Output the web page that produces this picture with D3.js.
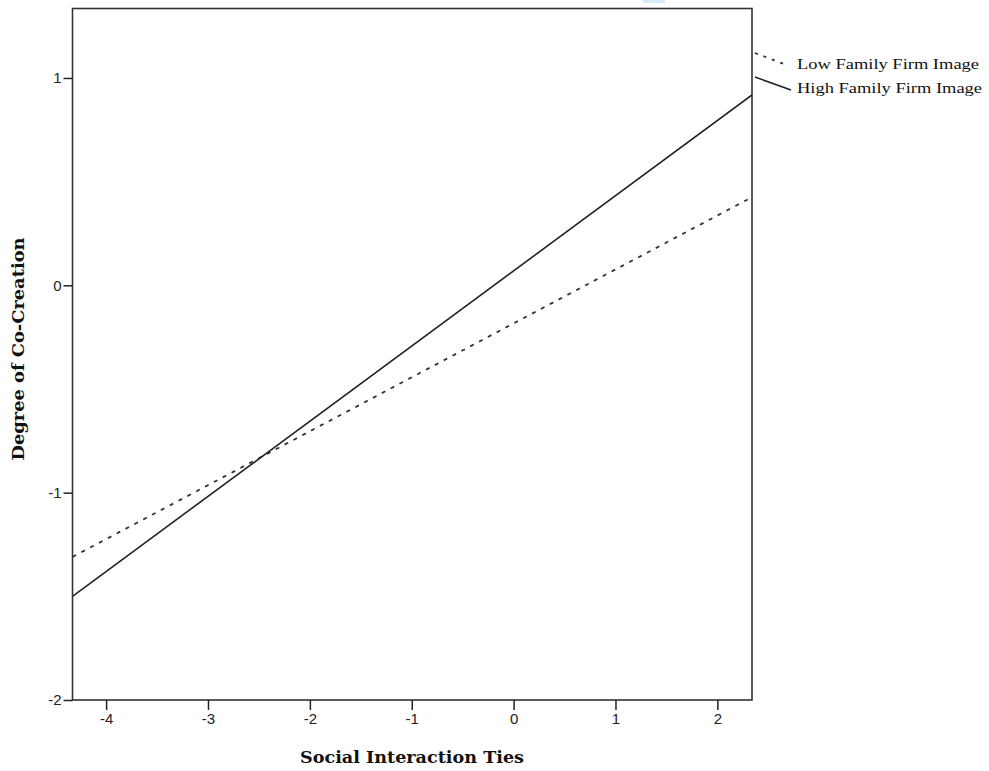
<!DOCTYPE html>
<html><head><meta charset="utf-8">
<script src="https://cdn.jsdelivr.net/npm/d3@7"></script>
<style>body{margin:0;background:#fff}svg{display:block}
.tick text{font-family:'Liberation Sans',Arial,sans-serif !important;font-size:15px !important;fill:#222}</style>
</head><body><svg id="c" width="989" height="771"></svg>
<script>
const xDomain = [-4.33, 2.34];
const yDomain = [-2, 1.335];
const xTicks = [-4, -3, -2, -1, 0, 1, 2];
const yTicks = [-2, -1, 0, 1];
const seriesNames = ["Low Family Firm Image", "High Family Firm Image"];
const lowLine = [[-4.33, -1.31], [2.34, 0.425]];
const highLine = [[-4.33, -1.50], [2.34, 0.918]];
const xTitle = "Social Interaction Ties";
const yTitle = "Degree of Co-Creation";

const svg = d3.select("#c");
const L = 72.5, R = 752, T = 8.5, B = 700;
const x = d3.scaleLinear().domain(xDomain).range([L, R]);
const y = d3.scaleLinear().domain(yDomain).range([B, T]);

// faint artifact at top
svg.append("rect").attr("x",643).attr("y",0).attr("width",22).attr("height",3).attr("fill","#d6ecfb");

// frame
svg.append("rect").attr("x",L).attr("y",T).attr("width",R-L).attr("height",B-T)
  .attr("fill","none").attr("stroke","#333").attr("stroke-width",1.6);

const fmt = d => String(d);
const xa = svg.append("g").attr("transform",`translate(0,${B})`)
  .call(d3.axisBottom(x).tickValues(xTicks).tickSize(10).tickPadding(3).tickFormat(fmt));
const ya = svg.append("g").attr("transform",`translate(${L},0)`)
  .call(d3.axisLeft(y).tickValues(yTicks).tickSize(9).tickPadding(2).tickFormat(fmt));
[xa, ya].forEach(a => {
  a.select(".domain").remove();
  a.selectAll(".tick line").attr("stroke","#222").attr("stroke-width",1.5);
});

const line = d3.line().x(d => x(d[0])).y(d => y(d[1]));
svg.append("clipPath").attr("id","cl").append("rect").attr("x",L).attr("y",T).attr("width",R-L).attr("height",B-T);
svg.append("path").attr("d", line(lowLine)).attr("clip-path","url(#cl)")
  .attr("fill","none").attr("stroke","#333").attr("stroke-width",1.8).attr("stroke-dasharray","4,6");
svg.append("path").attr("d", line(highLine)).attr("clip-path","url(#cl)")
  .attr("fill","none").attr("stroke","#222").attr("stroke-width",1.6);

// legend
const lg = svg.append("g");
lg.append("line").attr("x1",755).attr("y1",53).attr("x2",784).attr("y2",64)
  .attr("stroke","#333").attr("stroke-width",1.8).attr("stroke-dasharray","3,6");
lg.append("line").attr("x1",755).attr("y1",77).attr("x2",791).attr("y2",90)
  .attr("stroke","#222").attr("stroke-width",1.6);
lg.selectAll("text").data(seriesNames).join("text")
  .attr("x",797).attr("y",(d,i)=>69 + i*24)
  .style("font-family","'Liberation Serif', 'Times New Roman', serif").style("font-size","15px").attr("fill","#111")
  .attr("textLength",(d,i)=> i===0 ? 182 : 185).attr("lengthAdjust","spacingAndGlyphs")
  .text(d=>d);

svg.append("text").attr("x",412).attr("y",763).attr("text-anchor","middle")
  .style("font-family","'DejaVu Serif', serif").style("font-weight","bold").style("font-size","17px")
  .attr("textLength",224).attr("lengthAdjust","spacingAndGlyphs").attr("fill","#111").text(xTitle);
svg.append("text").attr("transform","translate(24,349) rotate(-90)").attr("text-anchor","middle")
  .style("font-family","'DejaVu Serif', serif").style("font-weight","bold").style("font-size","17px")
  .attr("textLength",223).attr("lengthAdjust","spacingAndGlyphs").attr("fill","#111").text(yTitle);
</script></body></html>
